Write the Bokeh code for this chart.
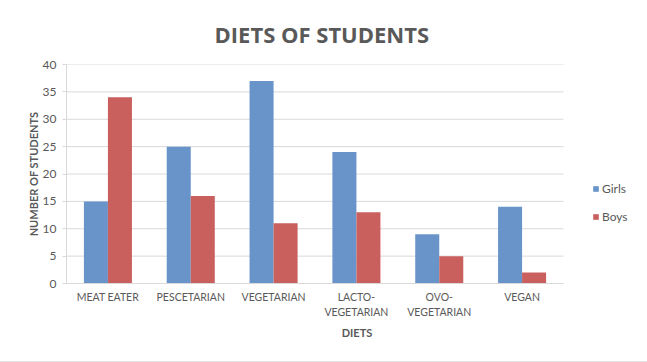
from bokeh.plotting import figure
from bokeh.models import ColumnDataSource, Legend, LegendItem, Range1d, FixedTicker
from bokeh.embed import file_html
from bokeh.resources import INLINE

categories = ["MEAT EATER", "PESCETARIAN", "VEGETARIAN", "LACTO-\nVEGETARIAN", "OVO-\nVEGETARIAN", "VEGAN"]
girls = [15, 25, 37, 24, 9, 14]
boys = [34, 16, 11, 13, 5, 2]
y_ticks = [0, 5, 10, 15, 20, 25, 30, 35, 40]

# layout parameters (pixels)
W, H = 647, 362
FRAME_L, FRAME_DATA_R, FRAME_T, FRAME_B = 66, 563, 64, 283
BAR_W = 0.29

n = len(categories)
centers = [i + 0.5 for i in range(n)]
x_end = n * (W - FRAME_L) / (FRAME_DATA_R - FRAME_L)

src = ColumnDataSource(dict(
    xg=[c - BAR_W / 2 for c in centers],
    xb=[c + BAR_W / 2 for c in centers],
    girls=girls, boys=boys))

FONT = "Lato"
GRAY = "#595959"
GRID = "#d9d9d9"

p = figure(x_range=Range1d(0, x_end), y_range=Range1d(y_ticks[0], y_ticks[-1]),
           width=W, height=H, output_backend="svg", toolbar_location=None,
           min_border_left=FRAME_L, min_border_right=0, min_border_bottom=H - FRAME_B,
           min_border_top=FRAME_T,
           styles={"border-bottom": "1px solid #e3e3e3"})

# horizontal gridlines limited to the data part of the frame
p.segment(x0=[0] * len(y_ticks), x1=[n] * len(y_ticks), y0=y_ticks, y1=y_ticks,
          line_color=GRID, line_width=1)

r1 = p.vbar(x="xg", top="girls", width=BAR_W, source=src, fill_color="#6894C9", line_color=None)
r2 = p.vbar(x="xb", top="boys", width=BAR_W, source=src, fill_color="#C9605E", line_color=None)

p.title.text = "DIETS OF STUDENTS"
p.title.align = "left"
p.title.offset = 148
p.title.standoff = 31
p.title.text_font = "Open Sans"
p.title.text_font_size = "22px"
p.title.text_font_style = "bold"
p.title.text_color = GRAY

p.outline_line_color = None
p.xgrid.grid_line_color = None
p.ygrid.grid_line_color = None

p.yaxis.ticker = FixedTicker(ticks=y_ticks)
p.xaxis.ticker = FixedTicker(ticks=centers)
p.xaxis.major_label_overrides = {c: lab for c, lab in zip(centers, categories)}
p.xaxis.bounds = (0, n)

for ax in (p.xaxis[0], p.yaxis[0]):
    ax.axis_line_color = GRID
    ax.major_tick_line_color = GRID
    ax.minor_tick_line_color = None
    ax.major_label_text_font = FONT
    ax.major_label_text_color = GRAY
    ax.axis_label_text_font = FONT
    ax.axis_label_text_font_style = "bold"
    ax.axis_label_text_color = GRAY
    ax.axis_label_text_font_size = "11px"

p.yaxis.major_tick_in = 0
p.yaxis.major_tick_out = 4
p.yaxis.major_label_text_font_size = "12px"
p.yaxis.axis_label = "NUMBER OF STUDENTS"
p.yaxis.major_label_standoff = 6
p.yaxis.axis_label_standoff = 0

p.xaxis.major_tick_line_color = None
p.xaxis.major_label_text_font_size = "10.5px"
p.xaxis.major_label_standoff = 1
p.xaxis.axis_label = "DIETS"
p.xaxis.axis_label_standoff = 5
p.xaxis.major_label_text_line_height = 1.25

legend = Legend(items=[LegendItem(label="Girls", renderers=[r1]), LegendItem(label="Boys", renderers=[r2])],
                location=(592 - FRAME_L, 57), border_line_color=None, background_fill_alpha=0,
                glyph_width=7, glyph_height=7, label_height=20, spacing=8,
                label_text_font=FONT, label_text_font_size="12px", label_text_color=GRAY,
                padding=0, margin=0, label_standoff=3)
p.add_layout(legend)

open("out.html", "w").write(file_html(p, INLINE))
